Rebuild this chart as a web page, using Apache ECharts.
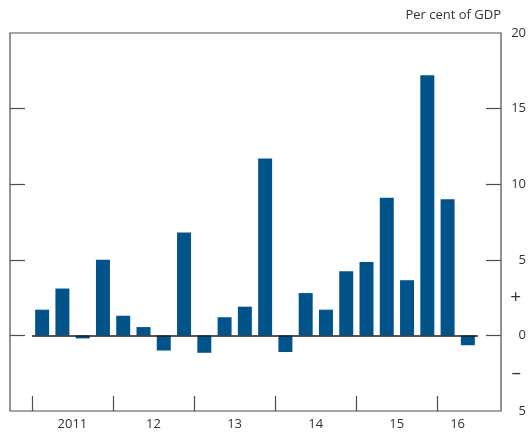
<!DOCTYPE html>
<html>
<head>
<meta charset="utf-8">
<script src="https://cdn.jsdelivr.net/npm/echarts@6/dist/echarts.min.js"></script>
<style>
  html, body { margin: 0; padding: 0; background: #fff; }
  #chart { width: 528px; height: 433px; }
</style>
</head>
<body>
<div id="chart"></div>
<script>
// quarters 2011 Q1 - 2016 Q2
let quarters = ['2011Q1','2011Q2','2011Q3','2011Q4','2012Q1','2012Q2','2012Q3','2012Q4',
                '2013Q1','2013Q2','2013Q3','2013Q4','2014Q1','2014Q2','2014Q3','2014Q4',
                '2015Q1','2015Q2','2015Q3','2015Q4','2016Q1','2016Q2'];
let values = [1.7, 3.1, -0.2, 5.0, 1.3, 0.55, -1.0, 6.8, -1.15, 1.2, 1.9, 11.7,
              -1.1, 2.8, 1.7, 4.25, 4.85, 9.1, 3.65, 17.2, 9.0, -0.65];
let yearLabels = ['2011', '12', '13', '14', '15', '16'];
let yearStarts = [0, 4, 8, 12, 16, 20];     // quarter index where each year begins
let yLabelValues = [-5, -2.5, 0, 2.5, 5, 10, 15, 20];
let yTickValues = [0, 5, 10, 15];

let textColor = '#333';
let frameColor = '#4d4d4d';
let font = 'Open Sans';

function yLabel(v){     // -5 shows as 5, half steps show as signs
    if(v === 2.5) return '{s|+}';
    if(v === -2.5) return '{s|\u2013}';
    return String(Math.abs(v));
}

let chart = echarts.init(document.getElementById('chart'));

let box = { left: 10, right: 27, top: 33, bottom: 22, containLabel: false, outerBoundsMode: 'none' };

let option = {
    animation: false,
    textStyle: { fontFamily: font },
    title: {
        text: 'Per cent of GDP',
        right: 27, top: 9,
        padding: 0,
        textStyle: { color: textColor, fontSize: 13, fontWeight: 'normal', fontFamily: font }
    },
    grid: [
        Object.assign({ show: true, borderColor: frameColor, borderWidth: 1.2 }, box),   // frame + y ticks
        { left: 32, right: 50, top: 33, bottom: 22, containLabel: false, outerBoundsMode: 'none' }   // bars
    ],
    xAxis: [
        { gridIndex: 0, type: 'value', min: 0, max: 1, show: false },
        {
            gridIndex: 1,
            type: 'category',
            data: quarters,
            boundaryGap: true,
            position: 'bottom',
            axisLine: { show: false, onZero: false },
            axisTick: { show: false },
            axisLabel: {
                interval: function(i){ return (i % 4 === 1 && i < 20) || i === 20; },
                formatter: function(v, i){ return yearLabels[Math.floor(i / 4)]; },
                padding: [0, 0, 0, 20],
                margin: 7,
                color: textColor,
                fontSize: 13,
                fontFamily: font
            },
            splitLine: { show: false }
        },
        {   // year boundary ticks
            gridIndex: 1,
            type: 'value',
            min: 0, max: quarters.length,
            position: 'bottom',
            axisLine: { show: false, onZero: false },
            axisLabel: { show: false },
            splitLine: { show: false },
            axisTick: {
                show: true, inside: true, length: 15,
                customValues: yearStarts,
                lineStyle: { color: frameColor, width: 1.2 }
            }
        }
    ],
    yAxis: [
        {
            gridIndex: 0,
            position: 'right',
            min: -5, max: 20, interval: 5,
            axisLine: { show: false, onZero: false },
            splitLine: { show: false },
            axisTick: {
                show: true, inside: true, length: 15,
                customValues: yTickValues,
                lineStyle: { color: frameColor, width: 1.2 }
            },
            axisLabel: {
                customValues: yLabelValues,
                formatter: yLabel,
                margin: 25,
                align: 'right',
                color: textColor,
                fontSize: 13,
                fontFamily: font,
                rich: { s: { fontSize: 19, color: textColor, fontFamily: font, padding: [0, 5, 0, 0] } }
            }
        },
        {
            gridIndex: 0,
            position: 'left',
            min: -5, max: 20, interval: 5,
            axisLine: { show: false, onZero: false },
            splitLine: { show: false },
            axisLabel: { show: false },
            axisTick: {
                show: true, inside: true, length: 15,
                customValues: yTickValues,
                lineStyle: { color: frameColor, width: 1.2 }
            }
        },
        { gridIndex: 1, min: -5, max: 20, interval: 5, show: false, splitLine: { show: false } }
    ],
    series: [
        {
            type: 'bar',
            xAxisIndex: 1,
            yAxisIndex: 2,
            data: values,
            barCategoryGap: '31%',
            itemStyle: { color: '#00548a' },
            markLine: {
                silent: true,
                symbol: 'none',
                label: { show: false },
                lineStyle: { type: 'solid', color: '#1e1e1e', width: 1.5 },
                data: [{ yAxis: 0 }]
            }
        }
    ]
};

chart.setOption(option);
</script>
</body>
</html>
